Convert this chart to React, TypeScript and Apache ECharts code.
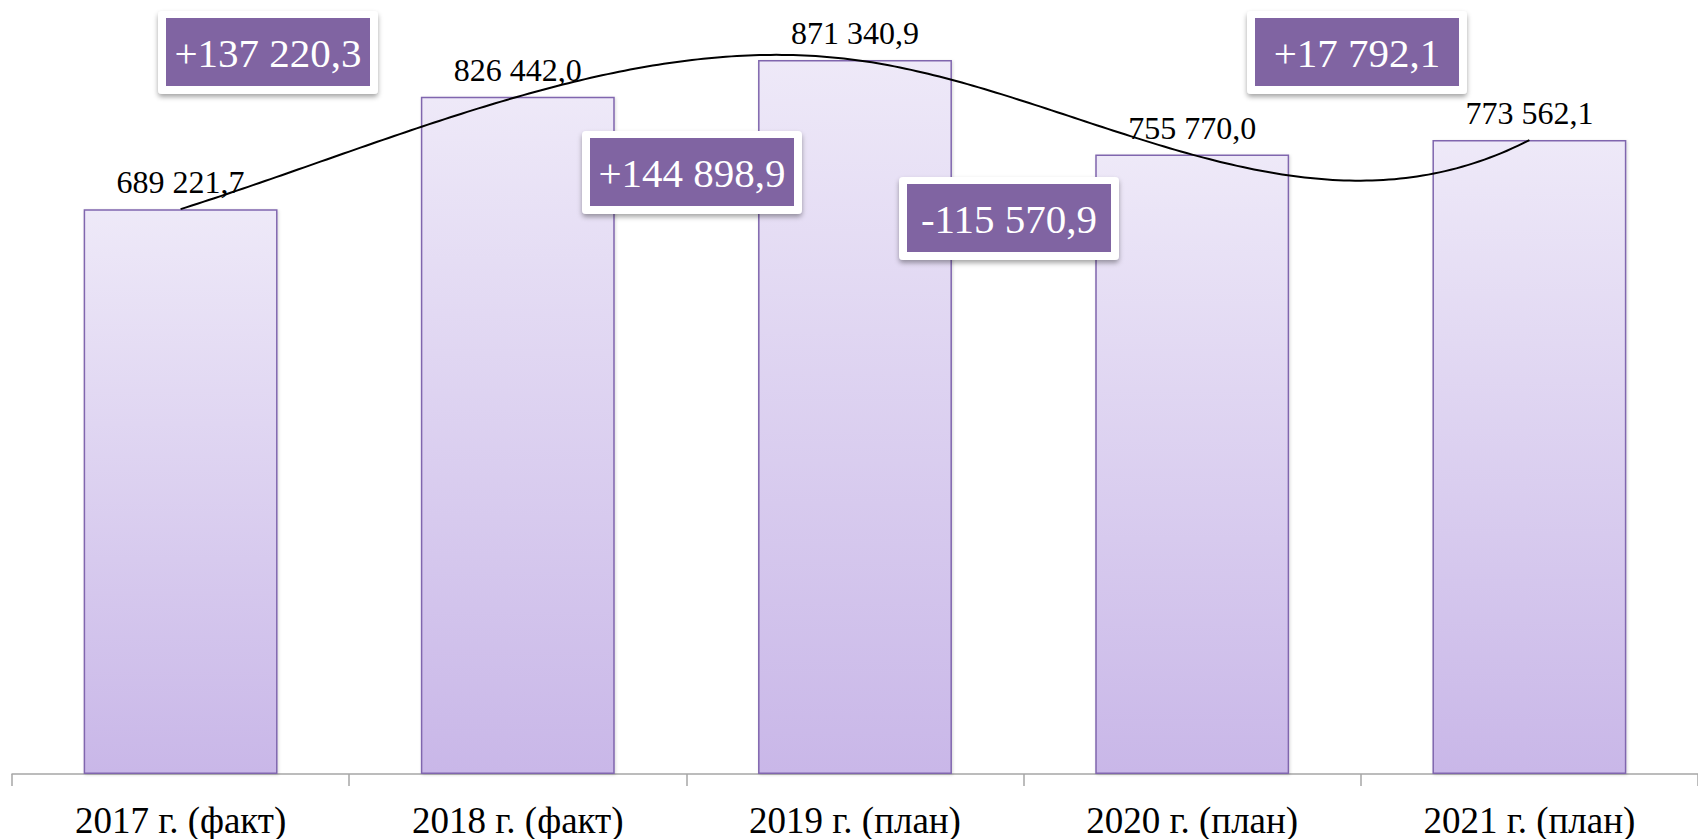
import React, { useEffect, useRef } from "react";
import * as echarts from "echarts";

const categories = ["2017 г. (факт)", "2018 г. (факт)", "2019 г. (план)", "2020 г. (план)", "2021 г. (план)"];
const values = [689221.7, 826442.0, 871340.9, 755770.0, 773562.1];
const deltaLabels = ["+137 220,3", "+144 898,9", "-115 570,9", "+17 792,1"];

const FONT = "Liberation Serif";

function fmt(v: number): string {
  const [i, d] = v.toFixed(1).split(".");
  return i.replace(/\B(?=(\d{3})+(?!\d))/g, " ") + "," + d;
}

// annotation box positions (outer box top-left)
const boxPos = [
  [158, 11],
  [582, 131],
  [899, 177],
  [1247, 11],
];

function makeBox(label: string, x: number, y: number) {
  const ow = 220, oh = 83, pad = 8;
  return {
    type: "group",
    x,
    y,
    z: 100,
    children: [
      {
        type: "rect",
        z: 100,
        shape: { x: 0, y: 0, width: ow, height: oh, r: 4 },
        style: {
          fill: "#ffffff",
          shadowColor: "rgba(0,0,0,0.35)",
          shadowBlur: 5,
          shadowOffsetX: 0,
          shadowOffsetY: 3,
        },
      },
      {
        type: "rect",
        z: 101,
        shape: { x: pad, y: pad - 1, width: ow - 2 * pad, height: oh - 2 * pad + 1 },
        style: { fill: "#8064A2" },
      },
      {
        type: "text",
        z: 102,
        x: ow / 2,
        y: oh / 2,
        style: {
          text: label,
          fill: "#ffffff",
          fontFamily: FONT,
          fontSize: 41,
          align: "center",
          verticalAlign: "middle",
        },
      },
    ],
  };
}

// not-a-knot cubic spline second derivatives (uniform spacing, h = 1)
function splineM(y: number[]): number[] {
  const n = y.length;
  const A: number[][] = [];
  const b: number[] = [];
  for (let r = 0; r < n; r++) {
    const row = new Array(n).fill(0);
    if (r === 0) {
      row[0] = 1; row[1] = -2; row[2] = 1; b.push(0);
    } else if (r === n - 1) {
      row[n - 3] = 1; row[n - 2] = -2; row[n - 1] = 1; b.push(0);
    } else {
      row[r - 1] = 1; row[r] = 4; row[r + 1] = 1;
      b.push(6 * (y[r + 1] - 2 * y[r] + y[r - 1]));
    }
    A.push(row);
  }
  for (let c = 0; c < n; c++) {
    let p = c;
    for (let r = c + 1; r < n; r++) if (Math.abs(A[r][c]) > Math.abs(A[p][c])) p = r;
    [A[c], A[p]] = [A[p], A[c]];
    [b[c], b[p]] = [b[p], b[c]];
    for (let r = c + 1; r < n; r++) {
      const f = A[r][c] / A[c][c];
      for (let k = c; k < n; k++) A[r][k] -= f * A[c][k];
      b[r] -= f * b[c];
    }
  }
  const M = new Array(n).fill(0);
  for (let r = n - 1; r >= 0; r--) {
    let s = b[r];
    for (let k = r + 1; k < n; k++) s -= A[r][k] * M[k];
    M[r] = s / A[r][r];
  }
  return M;
}

export default function App() {
  const ref = useRef<HTMLDivElement>(null);
  useEffect(() => {
    if (!ref.current) return;
    const chart = echarts.init(ref.current, null, { renderer: "svg" });
    chart.setOption({
      animation: false,
      backgroundColor: "#ffffff",
      textStyle: { fontFamily: FONT },
      grid: { left: 12, width: 1695, top: 36.4, height: 737.9 },
      xAxis: {
        type: "category",
        data: categories,
        boundaryGap: true,
        axisLine: { show: true, lineStyle: { color: "#A6A6A6", width: 1.5 } },
        axisTick: { show: true, length: 12, lineStyle: { color: "#A6A6A6", width: 1.5 } },
        axisLabel: { fontFamily: FONT, fontSize: 37, color: "#000000", margin: 28 },
      },
      yAxis: {
        type: "value",
        min: 0,
        max: 900000,
        show: false,
        splitLine: { show: false },
      },
      series: [
        {
          type: "bar",
          data: values,
          barWidth: "57.5%",
          itemStyle: {
            color: new echarts.graphic.LinearGradient(0, 0, 0, 1, [
              { offset: 0, color: "#EEE9F8" },
              { offset: 1, color: "#C9B7E8" },
            ]),
            borderColor: "#8066AE",
            borderWidth: 1.5,
            shadowColor: "rgba(0,0,0,0.15)",
            shadowBlur: 3,
            shadowOffsetX: 1,
            shadowOffsetY: 1,
          },
          label: {
            show: true,
            position: "top",
            distance: 11,
            fontFamily: FONT,
            fontSize: 32,
            color: "#000000",
            formatter: (p: any) => fmt(p.value),
          },
          z: 2,
        },
        {
          type: "custom",
          data: values.map((v, i) => [i, v]),
          encode: { x: 0, y: 1 },
          z: 3,
          silent: true,
          renderItem: (params: any, api: any) => {
            if (params.dataIndex !== 0) return null;
            const pts = values.map((v, i) => api.coord([i, v]));
            const ys = pts.map((p: number[]) => p[1]);
            const M = splineM(ys);
            const out: number[][] = [];
            const steps = 60;
            for (let i = 0; i < pts.length - 1; i++) {
              const x0 = pts[i][0], x1 = pts[i + 1][0];
              for (let s = 0; s <= steps; s++) {
                if (i > 0 && s === 0) continue;
                const t = s / steps;
                const y =
                  (1 - t) * ys[i] + t * ys[i + 1] -
                  (t * (1 - t) / 6) * ((2 - t) * M[i] + (1 + t) * M[i + 1]);
                out.push([x0 + (x1 - x0) * t, y]);
              }
            }
            return {
              type: "polyline",
              shape: { points: out },
              style: { stroke: "#000000", lineWidth: 2, fill: null },
            };
          },
        },
      ],
      graphic: deltaLabels.map((l, i) => makeBox(l, boxPos[i][0], boxPos[i][1])),
    });
    return () => chart.dispose();
  }, []);
  return (
    <div
      ref={ref}
      style={{ position: "fixed", left: 0, top: 0, width: 1698, height: 839 }}
    />
  );
}
